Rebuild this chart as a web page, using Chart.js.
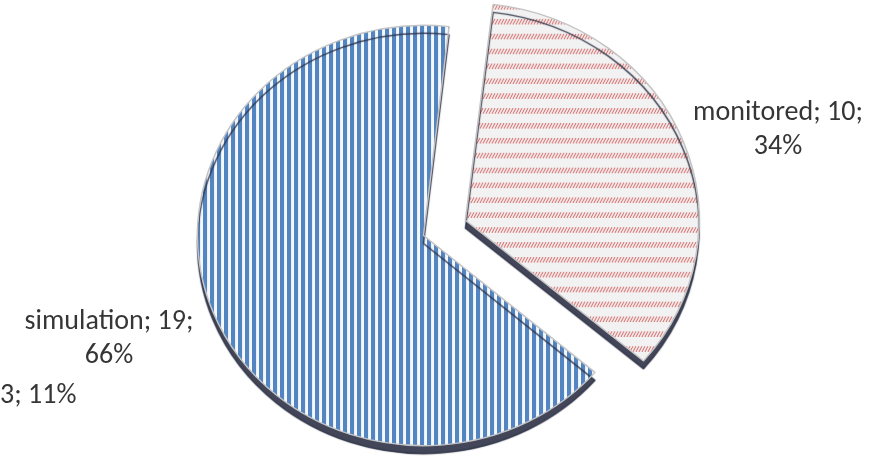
<!DOCTYPE html>
<html lang="en">
<head>
  <meta charset="UTF-8">
  <title>Pie</title>
  <style>
    body { margin: 0; padding: 0; background: #fff; }
    #wrap { width: 887px; height: 465px; }
  </style>
  <script src="https://cdn.jsdelivr.net/npm/chart.js"></script>
</head>
<body>
  <div id="wrap"><canvas id="pie" width="887" height="465"></canvas></div>
  <script>
    // data
    const categories = ['monitored', 'simulation'];
    const counts = [10, 19];
    const percents = ['34%', '66%'];
    const strayLabel = '3; 11%';

    // fill patterns
    function stripes() {
      const c = document.createElement('canvas');
      c.width = 7; c.height = 7;
      const g = c.getContext('2d');
      g.fillStyle = '#f5f8fc';
      g.fillRect(0, 0, 7, 7);
      g.fillStyle = '#5285c2';
      g.fillRect(0, 0, 4, 7);
      return g.createPattern(c, 'repeat');
    }
    function dashes() {
      const c = document.createElement('canvas');
      c.width = 15; c.height = 16;
      const g = c.getContext('2d');
      g.fillStyle = '#f2f2f2';
      g.fillRect(0, 0, 15, 16);
      g.strokeStyle = '#d65b5b';
      g.lineWidth = 1;
      for (let x = -3; x < 18; x += 3) {
        g.beginPath();
        g.moveTo(x, 9);
        g.lineTo(x + 3, 3);
        g.stroke();
      }
      return g.createPattern(c, 'repeat');
    }

    const squash = 0.93;
    const tilt = {
      id: 'tilt',
      beforeDatasetsDraw(chart) {
        const ctx = chart.ctx;
        const a = chart.getDatasetMeta(0).data[1];
        ctx.save();
        ctx.translate(a.x, a.y);
        ctx.scale(1, squash);
        ctx.translate(-a.x, -a.y);
        ctx.shadowColor = 'rgba(45,50,70,0.9)';
        ctx.shadowOffsetY = 8;
        ctx.shadowBlur = 1;
      },
      afterDatasetsDraw(chart) {
        chart.ctx.restore();
      }
    };

    const labels = {
      id: 'sliceLabels',
      afterDraw(chart) {
        const ctx = chart.ctx;
        ctx.save();
        ctx.fillStyle = '#363636';
        ctx.font = '28px Carlito, Lato, "Open Sans", sans-serif';
        ctx.textAlign = 'center';
        ctx.fillText(categories[0] + '; ' + counts[0] + ';', 778, 120);
        ctx.fillText(percents[0], 778, 154);
        ctx.fillText(categories[1] + '; ' + counts[1] + ';', 109, 329);
        ctx.fillText(percents[1], 109, 363);
        ctx.textAlign = 'left';
        ctx.fillText(strayLabel, 0, 403);
        ctx.restore();
      }
    };

    new Chart(document.getElementById('pie'), {
      type: 'pie',
      data: {
        labels: categories,
        datasets: [{
          data: counts,
          backgroundColor: [dashes(), stripes()],
          borderColor: '#c4c4c4',
          borderWidth: 1.5,
          // arc offset is divided by 4 when drawn
          offset: [180, 0]
        }]
      },
      options: {
        responsive: false,
        animation: false,
        rotation: 6.5,
        radius: 226,
        layout: { padding: { left: 0, right: 40, top: 6, bottom: 0 } },
        plugins: {
          legend: { display: false },
          tooltip: { enabled: false }
        }
      },
      plugins: [tilt, labels]
    });
  </script>
</body>
</html>
